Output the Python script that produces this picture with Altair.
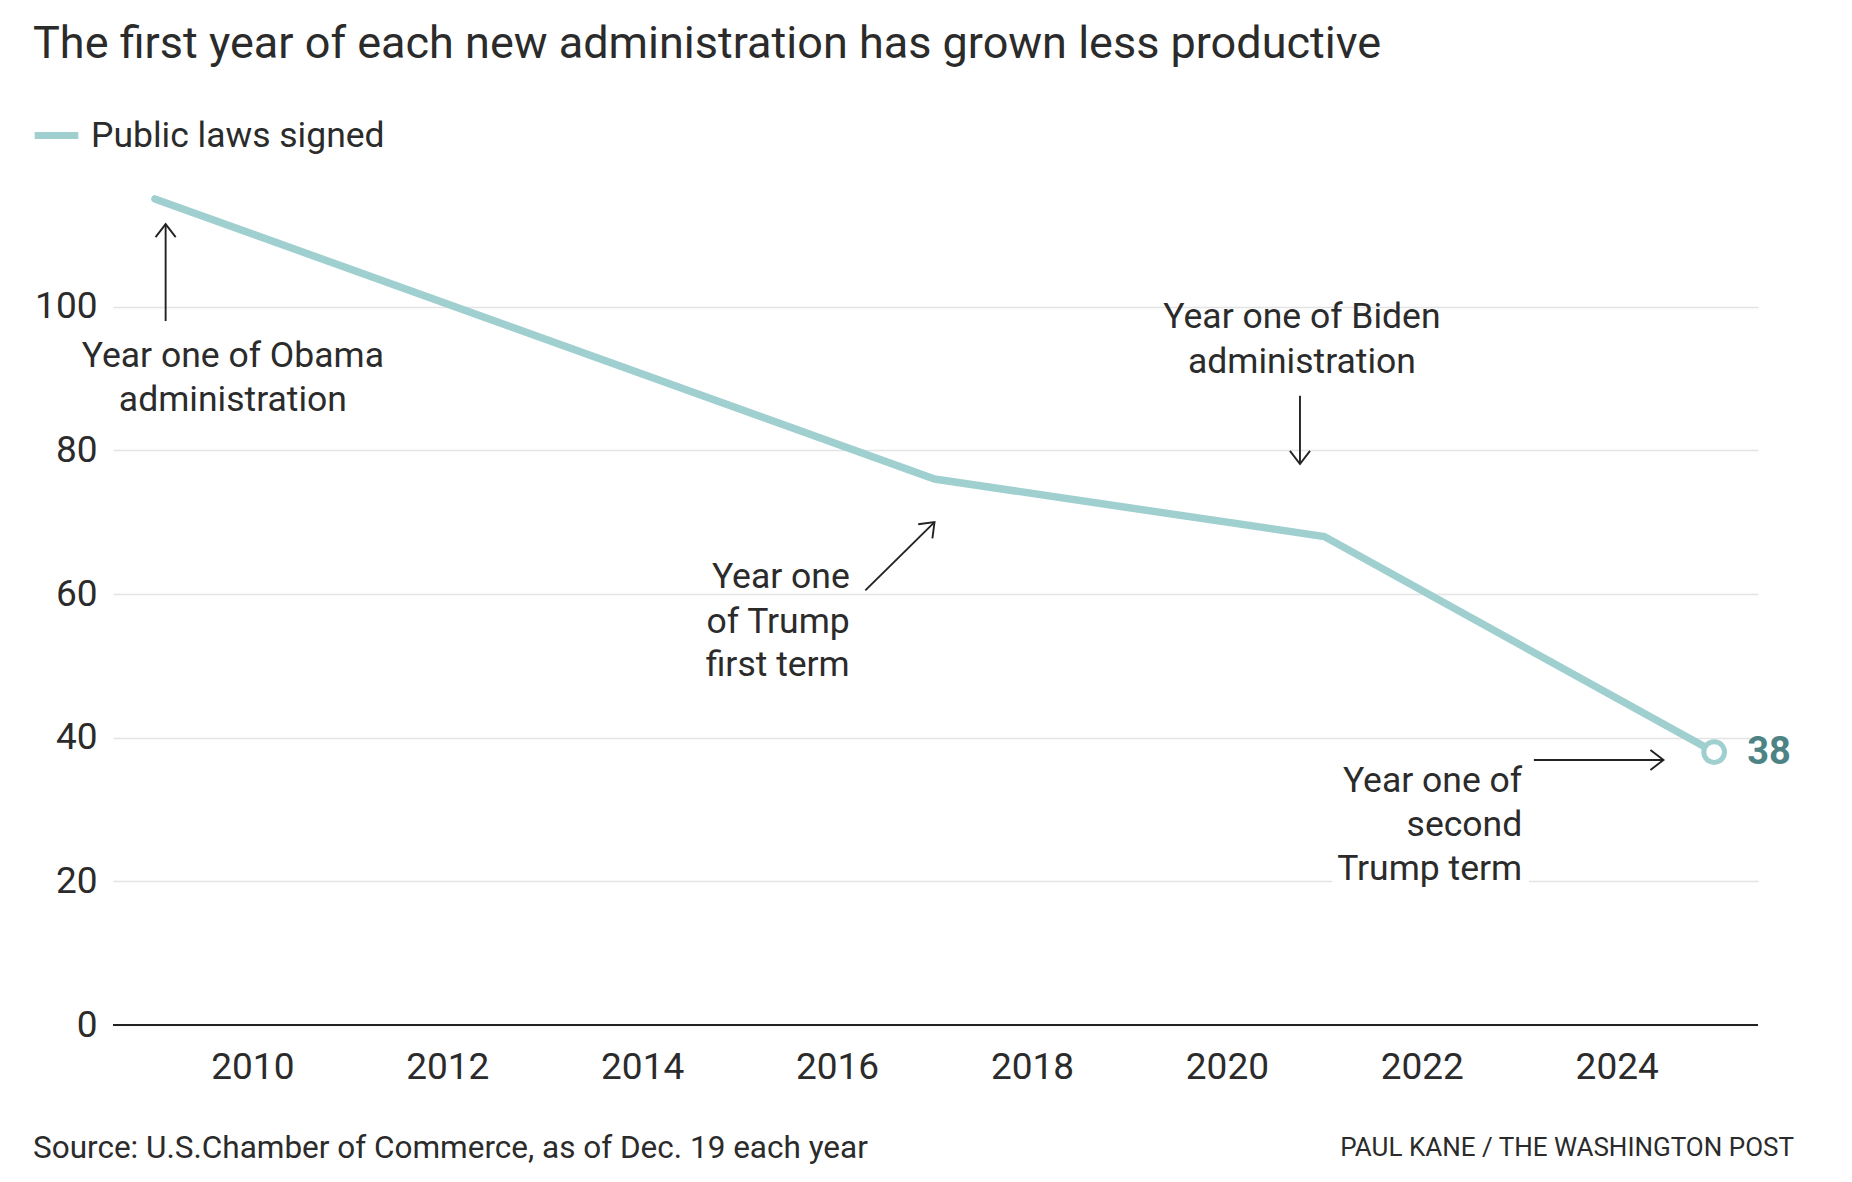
import altair as alt
import pandas as pd

# ---- data ----
years = [2009, 2017, 2021, 2025]
laws = [115, 76, 68, 38]
series_name = "Public laws signed"
x_ticks = [2010, 2012, 2014, 2016, 2018, 2020, 2022, 2024]
y_ticks = [0, 20, 40, 60, 80, 100]

title_text = "The first year of each new administration has grown less productive"
source_text = "Source: U.S.Chamber of Commerce, as of Dec. 19 each year"
credit_text = "PAUL KANE / THE WASHINGTON POST"

# centered annotation lines
center_lines = ["Year one of Obama", "administration", "Year one of Biden", "administration"]
center_x = [2009.8, 2009.8, 2020.77, 2020.77]
center_y = [93.1, 87.0, 98.5, 92.3]

# right-aligned annotation lines
right_lines = ["Year one", "of Trump", "first term", "Year one of", "second", "Trump term"]
right_x = [2016.13, 2016.13, 2016.13, 2023.03, 2023.03, 2023.03]
right_y = [62.4, 56.1, 50.1, 33.9, 27.8, 21.7]

# arrows: tail -> tip
arrow_x1 = [2009.11, 2016.29, 2020.75, 2023.15]
arrow_y1 = [98.0, 60.5, 87.6, 36.9]
arrow_x2 = [2009.11, 2017.0, 2020.75, 2024.48]
arrow_y2 = [111.5, 70.0, 78.1, 36.9]
arrow_angle = [0, 45, 180, 90]

# white patch behind "Trump term" (covers gridline)
patch_x = [2021.08]
patch_x2 = [2023.1]
patch_y = [19.2]
patch_y2 = [24.0]

LINE = "#a0cfd0"
DARK = "#4d8385"
TEXT = "#2b2b2b"
FONT = "Roboto"
W = 1645
H = 862

df = pd.DataFrame({"year": years, "laws": laws, "series": [series_name] * len(years)})
last = df.tail(1)

xs = alt.Scale(domain=[2008.57, 2025.45], nice=False, zero=False)
ys = alt.Scale(domain=[0, 120], nice=False)

x_enc = alt.X("year:Q", scale=xs, axis=alt.Axis(
    values=x_ticks, format="d", title=None, grid=False, ticks=False, domain=False,
    labelFontSize=37, labelPadding=24, labelColor=TEXT, labelFont=FONT))
y_enc = alt.Y("laws:Q", scale=ys, axis=alt.Axis(
    values=y_ticks, title=None, ticks=False, domain=False, gridColor="#e4e4e4",
    gridWidth=1.5, labelFontSize=37, labelPadding=16, labelColor=TEXT, labelFont=FONT))

line = alt.Chart(df).mark_line(strokeWidth=7.5, strokeCap="round").encode(
    x=x_enc, y=y_enc,
    color=alt.Color("series:N", scale=alt.Scale(domain=[series_name], range=[LINE]),
                    legend=alt.Legend(title=None, orient="none", legendX=-82, legendY=-53,
                                      symbolType="stroke", symbolSize=1900,
                                      symbolStrokeWidth=7, labelFontSize=35.5, labelLimit=0,
                                      labelColor=TEXT, labelFont=FONT, labelOffset=9)))

zdf = pd.DataFrame({"z": [0]})
baseline = alt.Chart(zdf).mark_rule(color="#222", strokeWidth=2).encode(
    x=alt.value(0), x2=alt.value(W), y=alt.Y("z:Q", scale=ys))

end_pt = alt.Chart(last).mark_point(shape="circle", size=430, filled=False, fill="white",
                                    stroke=LINE, strokeWidth=5, opacity=1).encode(
    x=alt.X("year:Q", scale=xs), y=alt.Y("laws:Q", scale=ys))

end_lbl = alt.Chart(last).mark_text(align="left", baseline="middle", dx=33, dy=1, fontSize=38,
                                    fontWeight="bold", color=DARK, font=FONT).encode(
    x=alt.X("year:Q", scale=xs), y=alt.Y("laws:Q", scale=ys), text=alt.Text("laws:Q", format="d"))

patch_df = pd.DataFrame({"x": patch_x, "x2": patch_x2, "y": patch_y, "y2": patch_y2})
patch = alt.Chart(patch_df).mark_rect(color="white").encode(
    x=alt.X("x:Q", scale=xs), x2="x2:Q", y=alt.Y("y:Q", scale=ys), y2="y2:Q")

cdf = pd.DataFrame({"t": center_lines, "x": center_x, "y": center_y})
ctext = alt.Chart(cdf).mark_text(align="center", baseline="middle", fontSize=35.5,
                                 color=TEXT, font=FONT).encode(
    x=alt.X("x:Q", scale=xs), y=alt.Y("y:Q", scale=ys), text="t:N")

rdf = pd.DataFrame({"t": right_lines, "x": right_x, "y": right_y})
rtext = alt.Chart(rdf).mark_text(align="right", baseline="middle", fontSize=35.5,
                                 color=TEXT, font=FONT).encode(
    x=alt.X("x:Q", scale=xs), y=alt.Y("y:Q", scale=ys), text="t:N")

adf = pd.DataFrame({"x1": arrow_x1, "y1": arrow_y1, "x2": arrow_x2, "y2": arrow_y2, "a": arrow_angle})
shafts = alt.Chart(adf).mark_rule(color="#222", strokeWidth=1.9).encode(
    x=alt.X("x1:Q", scale=xs), y=alt.Y("y1:Q", scale=ys), x2="x2:Q", y2="y2:Q")
heads = alt.Chart(adf).mark_point(shape="M-0.77,1L0,0L0.77,1", size=680, filled=False,
                                  color="#222", strokeWidth=1.9, opacity=1).encode(
    x=alt.X("x2:Q", scale=xs), y=alt.Y("y2:Q", scale=ys),
    angle=alt.Angle("a:Q", scale=None))

tdf = pd.DataFrame({"t": [title_text]})
title = alt.Chart(tdf).mark_text(align="left", baseline="middle", fontSize=45,
                                 color=TEXT, font=FONT).encode(
    x=alt.value(-80), y=alt.value(-119), text="t:N")

sdf = pd.DataFrame({"t": [source_text]})
source = alt.Chart(sdf).mark_text(align="left", baseline="middle", fontSize=31.5,
                                  color=TEXT, font=FONT).encode(
    x=alt.value(-80), y=alt.value(986), text="t:N")

kdf = pd.DataFrame({"t": [credit_text]})
credit = alt.Chart(kdf).mark_text(align="right", baseline="middle", fontSize=26,
                                  color=TEXT, font=FONT).encode(
    x=alt.value(1681), y=alt.value(985), text="t:N")

chart = alt.layer(
    patch, line, baseline, shafts, heads, end_pt, end_lbl, ctext, rtext, title, source, credit
).properties(
    width=W, height=H,
    autosize=alt.AutoSizeParams(type="none"),
    padding={"left": 105, "top": 155, "right": 86, "bottom": 149},
    background="white",
).configure(font=FONT).configure_view(strokeWidth=0, stroke="transparent")

chart.save("out.html", embed_options={"renderer": "svg", "actions": False})
